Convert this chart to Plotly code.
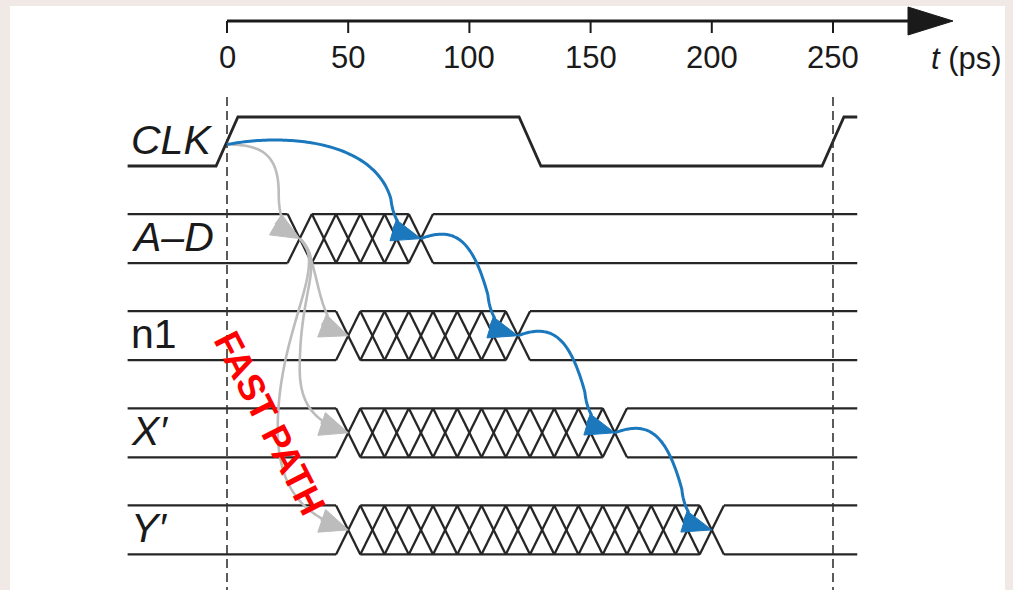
import numpy as np
import plotly.graph_objects as go

# ---------------- data ----------------
tick_values = [0, 50, 100, 150, 200, 250]
tick_labels = ["0", "50", "100", "150", "200", "250"]
axis_title = "<i>t</i> (ps)"

signal_names = ["CLK", "A–D", "n1", "X′", "Y′"]
name_italic = [True, True, False, True, True]

clk_edges = [0, 125, 250]          # ps, centre of each CLK edge
clk_levels = [0, 1, 0, 1]          # level before / between / after the edges
clk_edge_width = 9                 # ps

bus_rows = [1, 2, 3, 4]            # A–D, n1, X', Y'
bus_first = [30, 50, 50, 50]       # earliest change (contamination delay)
bus_last = [80, 120, 160, 200]     # latest change (propagation delay)
bus_step = 10                      # ps between overlaid transitions

t_start, t_end = -41, 260
fast_path_text = "FAST PATH"

# ---------------- geometry (pixel <-> data) ----------------
W, H = 1013, 590
X0, S = 227.0, 2.424               # pixel of t=0, pixels per ps
Y0, R = 141.5, 97.1                # pixel of row 0 centre, pixels per row
HALF = 24.5 / R                    # half signal height in rows


def to_px(t, row):
    return np.array([X0 + t * S, Y0 + row * R])


def to_data(p):
    p = np.asarray(p, dtype=float)
    return (p[..., 0] - X0) / S, (p[..., 1] - Y0) / R


fig = go.Figure()
INK = "#262626"

# ---------------- CLK ----------------
cx, cy = [t_start], [clk_levels[0]]
for i, e in enumerate(clk_edges):
    cx += [e - clk_edge_width / 2, e + clk_edge_width / 2]
    cy += [clk_levels[i], clk_levels[i + 1]]
cx.append(t_end)
cy.append(clk_levels[-1])
cy = [0 + (HALF if v == 0 else -HALF) for v in cy]
fig.add_trace(go.Scatter(x=cx, y=cy, mode="lines",
                         line=dict(color=INK, width=2.8), hoverinfo="skip"))

# ---------------- buses ----------------
bx, by = [], []
for row, f, l in zip(bus_rows, bus_first, bus_last):
    top, bot = row - HALF, row + HALF
    hw = bus_step / 2
    for y in (top, bot):
        bx += [t_start, f - hw, None, l + hw, t_end, None]
        by += [y, y, None, y, y, None]
        if l > f:
            bx += [f + hw, l - hw, None]
            by += [y, y, None]
    for c in np.arange(f, l + 0.1, bus_step):
        bx += [c - hw, c + hw, None, c - hw, c + hw, None]
        by += [top, bot, None, bot, top, None]
fig.add_trace(go.Scatter(x=bx, y=by, mode="lines",
                         line=dict(color=INK, width=2.3), hoverinfo="skip"))

# ---------------- dashed clock-edge markers ----------------
for e in (clk_edges[0], clk_edges[-1]):
    _, ya = to_data([0, 97])
    _, yb = to_data([0, H])
    fig.add_trace(go.Scatter(x=[e, e], y=[ya, yb], mode="lines",
                             line=dict(color="#333333", width=1.6, dash="9px,5px"),
                             hoverinfo="skip"))

# ---------------- time axis ----------------
_, y_axis = to_data([0, 21])
_, y_tick = to_data([0, 33])
t_arrow_base = (908 - X0) / S
t_arrow_tip = (953 - X0) / S
_, y_head_top = to_data([0, 7])
_, y_head_bot = to_data([0, 35])
fig.add_trace(go.Scatter(x=[0, t_arrow_base + 1], y=[y_axis, y_axis], mode="lines",
                         line=dict(color="#1a1a1a", width=3), hoverinfo="skip"))
tx, ty = [], []
for v in tick_values:
    tx += [v, v, None]
    ty += [y_axis, y_tick, None]
fig.add_trace(go.Scatter(x=tx, y=ty, mode="lines",
                         line=dict(color="#1a1a1a", width=2), hoverinfo="skip"))
fig.add_trace(go.Scatter(x=[t_arrow_base, t_arrow_tip, t_arrow_base, t_arrow_base],
                         y=[y_head_top, y_axis, y_head_bot, y_head_top],
                         mode="lines", fill="toself", fillcolor="#1a1a1a",
                         line=dict(color="#1a1a1a", width=1), hoverinfo="skip"))
_, y_lab = to_data([0, 57])
for v, s in zip(tick_values, tick_labels):
    fig.add_annotation(x=v, y=y_lab, text=s, showarrow=False,
                       font=dict(family="Liberation Sans, Arial", size=31, color="#1a1a1a"),
                       xanchor="center", yanchor="middle")
fig.add_annotation(x=(929 - X0) / S, y=to_data([0, 58])[1], text=axis_title,
                   showarrow=False, xanchor="left", yanchor="middle",
                   font=dict(family="Liberation Sans, Arial", size=31, color="#1a1a1a"))


# ---------------- arrows ----------------
def bez(p0, c1, c2, p1, n=40):
    t = np.linspace(0, 1, n)[:, None]
    return ((1 - t) ** 3) * p0 + 3 * ((1 - t) ** 2) * t * c1 + 3 * (1 - t) * t ** 2 * c2 + t ** 3 * p1


def arrow(segments, color, width, head_len, head_w):
    pts = np.vstack([bez(*[np.asarray(q, float) for q in seg]) for seg in segments])
    tip = np.asarray(segments[-1][3], float)
    d = tip - np.asarray(segments[-1][2], float)
    u = d / np.linalg.norm(d)
    nrm = np.array([-u[1], u[0]])
    base = tip - head_len * u
    keep = np.linalg.norm(pts - tip, axis=1) > head_len
    pts = np.vstack([pts[keep], base])
    lx, ly = to_data(pts)
    fig.add_trace(go.Scatter(x=lx, y=ly, mode="lines",
                             line=dict(color=color, width=width, shape="spline", smoothing=0.3),
                             hoverinfo="skip"))
    tri = np.array([tip, base + nrm * head_w, base - nrm * head_w, tip])
    hx, hy = to_data(tri)
    fig.add_trace(go.Scatter(x=hx, y=hy, mode="lines", fill="toself", fillcolor=color,
                             line=dict(color=color, width=1), hoverinfo="skip"))


BLUE = "#1b78bd"
GRAY = "#bcbcbc"

# fast (contamination) path: CLK -> A–D first change -> other first changes
p_clk = to_px(clk_edges[0], 0) + np.array([0, 3])
p_ad = to_px(bus_first[0], bus_rows[0])
arrow([(p_clk, p_clk + [34, 0], p_ad + [-21, -85], p_ad + [-21, -45]),
       (p_ad + [-21, -45], p_ad + [-21, -15], p_ad + [-12, -7], p_ad)],
      GRAY, 2.6, 28, 12)
for row, f in zip(bus_rows[1:], bus_first[1:]):
    p1 = to_px(f, row)
    if row == 2:
        arrow([(p_ad, p_ad + [22, 24], p_ad + [14, 84], p1)], GRAY, 2.6, 28, 12)
    elif row == 3:
        m = p_ad + [0, 130]
        arrow([(p_ad, p_ad + [26, 24], m + [0, -80], m),
               (m, m + [0, 40], p1 + [-30, -10], p1)], GRAY, 2.6, 28, 12)
    else:
        m = p_ad + [-22, 190]
        arrow([(p_ad, p_ad + [30, 26], m + [0, -100], m),
               (m, m + [0, 70], p1 + [-35, -12], p1)], GRAY, 2.6, 28, 12)

# critical (propagation) path: CLK -> A–D last -> n1 last -> X' last -> Y' last
chain = [to_px(clk_edges[0], 0) + np.array([0, 3])] + \
        [to_px(l, r) for l, r in zip(bus_last, bus_rows)]
for p0, p1 in zip(chain[:-1], chain[1:]):
    dx, dy = p1 - p0
    m = np.array([p1[0] - 30, p0[1] + 0.58 * dy])
    arrow([(p0, p0 + [0.33 * dx, -12], [m[0] - 16, p0[1] - 2], m),
           (m, m + [2, 0.2 * dy], p1 + [-20, -6], p1)],
          BLUE, 3, 29, 11)

# ---------------- labels ----------------
for i, (nm, it) in enumerate(zip(signal_names, name_italic)):
    fig.add_annotation(x=(129 - X0) / S, y=i - 0.02, text=f"<i>{nm}</i>" if it else nm,
                       showarrow=False, xanchor="left", yanchor="middle",
                       font=dict(family="Liberation Sans, Arial", size=41, color="#1a1a1a"))

fx, fy = to_data([270, 423])
fig.add_annotation(x=fx, y=fy, text=f"<b>{fast_path_text}</b>", showarrow=False,
                   textangle=63, xanchor="center", yanchor="middle",
                   font=dict(family="Liberation Sans Narrow, Liberation Sans, Arial",
                             size=37, color="#ff0000"))

# ---------------- layout ----------------
xr = [(0 - X0) / S, (W - X0) / S]
yr = [(H - Y0) / R, (0 - Y0) / R]
fig.update_layout(
    width=W, height=H,
    margin=dict(l=0, r=0, t=0, b=0, pad=0, autoexpand=False),
    paper_bgcolor="#f1e9e6",
    plot_bgcolor="rgba(0,0,0,0)",
    showlegend=False,
    xaxis=dict(range=xr, visible=False, fixedrange=True),
    yaxis=dict(range=yr, visible=False, fixedrange=True),
    shapes=[dict(type="rect", xref="paper", yref="paper",
                 x0=10 / W, x1=1005 / W, y0=0, y1=1 - 6 / H,
                 fillcolor="white", line=dict(width=0), layer="below")],
)
fig.write_html("out.html", config={"displayModeBar": False},
               post_script="document.body.style.margin='0px';"
                           "document.body.style.overflow='hidden';")
